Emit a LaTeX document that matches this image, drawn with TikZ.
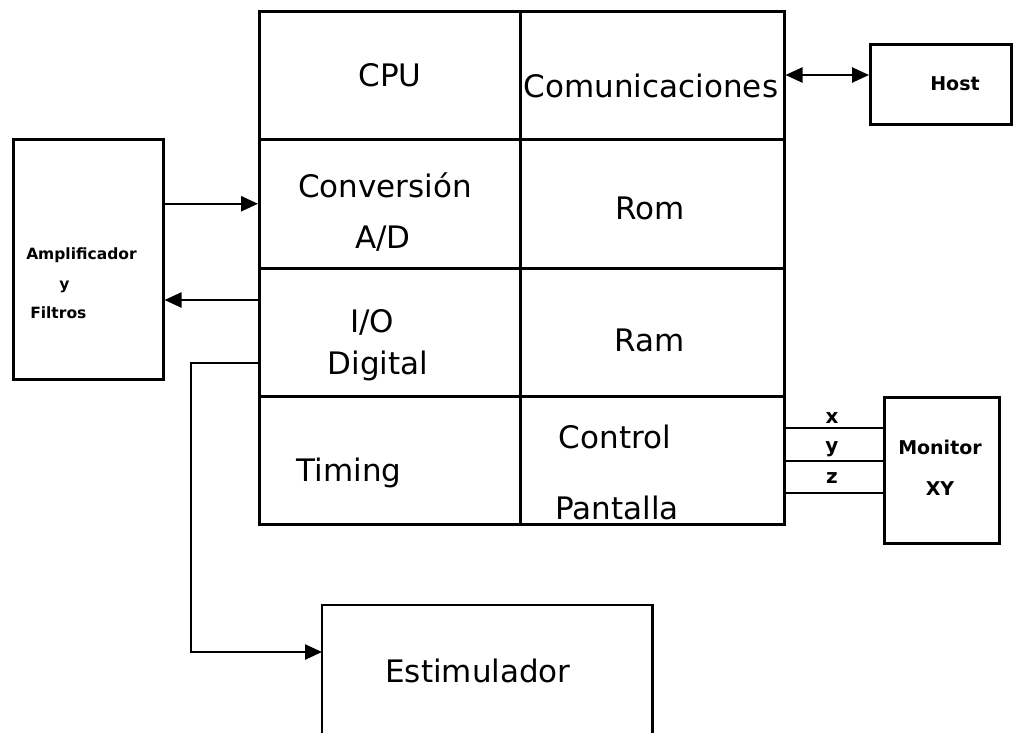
\documentclass[tikz,border=0pt]{standalone}
\usepackage{fontspec}
\setmainfont{DejaVu Sans}
\usetikzlibrary{arrows.meta}
\begin{document}
\begin{tikzpicture}[x=1pt,y=-1pt,line width=2.5pt,
  cell/.style={draw,rectangle,inner sep=0pt,anchor=north west},
  big/.style={anchor=base,inner sep=0pt,font=\fontsize{31}{37}\selectfont},
  small/.style={anchor=base,inner sep=0pt,font=\bfseries\fontsize{19}{22}\selectfont},
  lbl/.style={anchor=base,inner sep=0pt,font=\bfseries\fontsize{20}{24}\selectfont},
  tiny/.style={anchor=base west,inner sep=0pt,font=\bfseries\fontsize{15.5}{18}\selectfont},
  arr/.style={-{Triangle[length=17pt,width=15pt]}},
  darr/.style={{Triangle[length=17pt,width=15pt]}-{Triangle[length=17pt,width=15pt]}}]
\useasboundingbox (0,0) rectangle (1019,732);
% main block cells
\node[cell,minimum width=261,minimum height=128] (cpu)  at (258,10)  {};
\node[cell,minimum width=264,minimum height=128] (com)  at (519,10)  {};
\node[cell,minimum width=261,minimum height=129] (conv) at (258,138) {};
\node[cell,minimum width=264,minimum height=129] (rom)  at (519,138) {};
\node[cell,minimum width=261,minimum height=128] (io)   at (258,267) {};
\node[cell,minimum width=264,minimum height=128] (ram)  at (519,267) {};
\node[cell,minimum width=261,minimum height=128] (tim)  at (258,395) {};
\node[cell,minimum width=264,minimum height=128] (ctl)  at (519,395) {};
% other boxes
\node[cell,minimum width=150,minimum height=240] (amp) at (12,138) {};
\node[cell,minimum width=141,minimum height=80] (host) at (869,43) {};
\node[cell,minimum width=115,minimum height=146] (mon) at (883,396) {};
\node[anchor=north west,inner sep=0pt,minimum width=328,minimum height=127] (stim) at (322,605) {};
\draw (stim.south west) -- (stim.north west) -- (stim.north east) -- (stim.south east);
% texts
\node[big] (tcpu) at (390,86) {CPU};
\node[big] (tcom) at (651,97) {Comunicaciones};
\node[big] (tconv) at (385,197) {Conversión};
\node[big] (tad) at (383,248) {A/D};
\node[big] (tio) at (372,332) {I/O};
\node[big] (tdig) at (378,374) {Digital};
\node[big] (trom) at (650,219) {Rom};
\node[big] (tram) at (650,351) {Ram};
\node[big] (ttim) at (349,481) {Timing};
\node[big] (tctl) at (615,448) {Control};
\node[big] (tpan) at (617,519) {Pantalla};
\node[big] (test) at (478,682) {Estimulador};
\node[tiny] (tamp) at (25,259) {Amplificador};
\node[tiny] (ty) at (58,289) {y};
\node[tiny] (tfil) at (29,318) {Filtros};
\node[small] (thost) at (955,90) {Host};
\node[small] (tmon) at (940,454) {Monitor};
\node[small] (txy) at (940,495) {XY};
% connectors
\draw[arr] (amp.east |- conv.west) -- (conv.west);
\draw[arr] (io.west |- 0,300) -- (amp.east |- 0,300);
\coordinate (c1) at (191,363);
\coordinate (c2) at (191,652);
\draw[arr] (io.west |- c1) -- (c1) -- (c2) -- (stim.west |- c2);
\draw[darr] (com.east |- 0,75) -- (host.west |- 0,75);
\draw (ctl.east |- 0,428) -- (mon.west |- 0,428);
\draw (ctl.east |- 0,461) -- (mon.west |- 0,461);
\draw (ctl.east |- 0,493) -- (mon.west |- 0,493);
\node[lbl] (lx) at (832,423) {x};
\node[lbl] (ly) at (832,452) {y};
\node[lbl] (lz) at (832,483) {z};
\end{tikzpicture}
\end{document}
